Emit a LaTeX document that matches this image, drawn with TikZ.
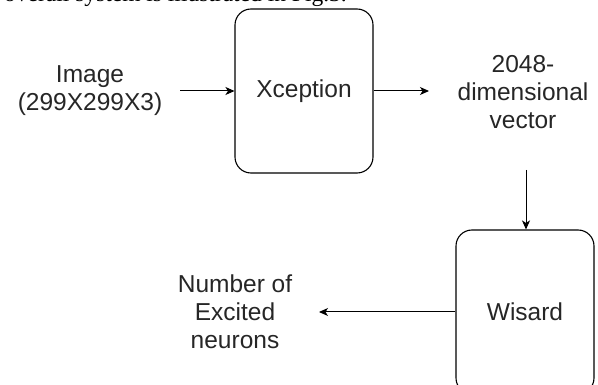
\documentclass[tikz,border=0pt]{standalone}
\usepackage{fontspec}
\setmainfont{Liberation Sans}
\newfontfamily\serifpage{Liberation Serif}
\usetikzlibrary{arrows.meta}
\begin{document}
\begin{tikzpicture}[x=1pt,y=-1pt,
  blockbox/.style={draw, line width=1.1pt, rounded corners=16pt, minimum width=138pt, minimum height=164pt, inner sep=0pt, font=\fontsize{24.5}{28}\selectfont},
  lbl/.style={align=center, inner sep=0pt, font=\fontsize{24.5}{28}\selectfont, text=black!85},
  conn/.style={line width=1pt, -{Stealth[length=9pt,width=8pt,inset=2.5pt]}}]
\useasboundingbox (0,0) rectangle (598,385);
\clip (0,0) rectangle (598,385);
\node[anchor=base east, inner sep=0pt, font=\serifpage\fontsize{23.5}{28}\selectfont] (top) at (347,2) {overall system is illustrated in Fig.3.};
\node[blockbox, text=black!85] (xc) at (304,91) {Xception};
\node[blockbox, text=black!85] (ws) at (525,312) {Wisard};
\node[lbl] (img) at (90,91) {Image\\(299X299X3)};
\node[lbl] (vec) at (523,92) {2048-\\dimensional\\vector};
\node[lbl] (num) at (235,312) {Number of\\Excited\\neurons};
\coordinate (a1) at (180,91);
\coordinate (a2) at (429,91);
\coordinate (a3) at (526,170);
\coordinate (a4) at (319,312);
\draw[conn] (a1) -- (xc.west);
\draw[conn] (xc.east) -- (a2);
\draw[conn] (a3) -- (a3 |- ws.north);
\draw[conn] (ws.west) -- (a4);
\end{tikzpicture}
\end{document}
